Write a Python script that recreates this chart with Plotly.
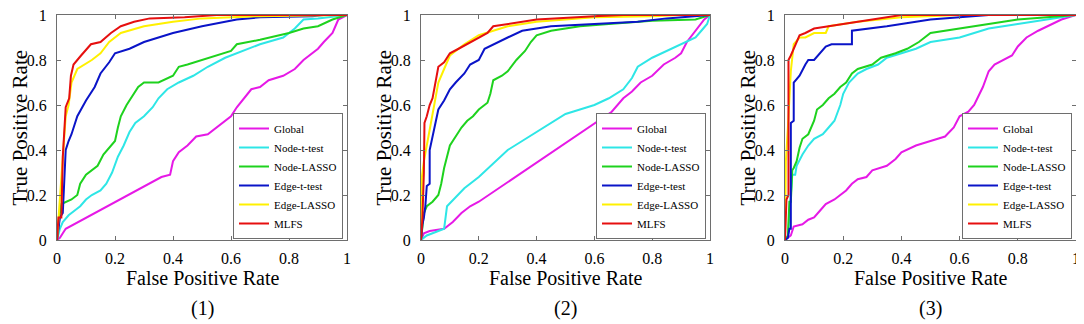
import plotly.graph_objects as go

methods = ["Global", "Node-t-test", "Node-LASSO", "Edge-t-test", "Edge-LASSO", "MLFS"]
colors = ["#e619e6", "#2ee6e6", "#1ed21e", "#0a14c8", "#fff000", "#e60f0f"]
panel_labels = ["(1)", "(2)", "(3)"]
tick_vals = [0, 0.2, 0.4, 0.6, 0.8, 1]

# ---------- Panel 1 ----------
p1_global_x = [0, 0.01, 0.02, 0.03, 0.36, 0.39, 0.40, 0.42, 0.45, 0.48, 0.52, 0.55, 0.58, 0.60, 0.62, 0.65, 0.67, 0.70, 0.73, 0.78, 0.82, 0.85, 0.88, 0.90, 0.92, 0.95, 0.96, 0.97, 1]
p1_global_y = [0, 0.01, 0.03, 0.05, 0.28, 0.29, 0.35, 0.39, 0.42, 0.46, 0.47, 0.50, 0.53, 0.55, 0.59, 0.64, 0.67, 0.68, 0.71, 0.73, 0.76, 0.80, 0.83, 0.85, 0.88, 0.92, 0.95, 0.98, 1]
p1_nodet_x = [0, 0.01, 0.02, 0.04, 0.06, 0.08, 0.10, 0.12, 0.15, 0.17, 0.19, 0.21, 0.23, 0.25, 0.27, 0.30, 0.33, 0.35, 0.38, 0.42, 0.47, 0.52, 0.58, 0.62, 0.70, 0.78, 0.82, 0.85, 0.90, 1]
p1_nodet_y = [0, 0.05, 0.08, 0.11, 0.13, 0.15, 0.18, 0.20, 0.22, 0.25, 0.30, 0.37, 0.42, 0.48, 0.52, 0.55, 0.59, 0.63, 0.67, 0.70, 0.73, 0.77, 0.81, 0.83, 0.87, 0.90, 0.94, 0.98, 0.985, 1]
p1_nodel_x = [0, 0.005, 0.01, 0.015, 0.03, 0.05, 0.07, 0.08, 0.10, 0.12, 0.14, 0.16, 0.18, 0.20, 0.21, 0.22, 0.24, 0.26, 0.28, 0.30, 0.35, 0.40, 0.42, 0.45, 0.50, 0.55, 0.60, 0.62, 0.70, 0.80, 0.85, 0.90, 0.95, 1]
p1_nodel_y = [0, 0.07, 0.12, 0.16, 0.17, 0.18, 0.20, 0.25, 0.29, 0.31, 0.33, 0.38, 0.41, 0.44, 0.50, 0.55, 0.60, 0.64, 0.68, 0.70, 0.70, 0.73, 0.77, 0.78, 0.80, 0.82, 0.84, 0.87, 0.89, 0.92, 0.94, 0.95, 0.98, 1]
p1_edget_x = [0, 0.01, 0.02, 0.025, 0.03, 0.04, 0.05, 0.07, 0.10, 0.13, 0.15, 0.18, 0.20, 0.25, 0.30, 0.40, 0.50, 0.62, 0.70, 0.88, 0.92, 1]
p1_edget_y = [0, 0.10, 0.12, 0.25, 0.40, 0.44, 0.47, 0.55, 0.62, 0.68, 0.74, 0.79, 0.83, 0.85, 0.88, 0.92, 0.95, 0.98, 0.99, 0.995, 1, 1]
p1_edgel_x = [0, 0.005, 0.02, 0.03, 0.04, 0.05, 0.07, 0.12, 0.15, 0.18, 0.22, 0.30, 0.40, 0.50, 0.70, 1]
p1_edgel_y = [0, 0.10, 0.35, 0.55, 0.60, 0.70, 0.76, 0.80, 0.83, 0.88, 0.92, 0.95, 0.97, 0.985, 0.995, 1]
p1_mlfs_x = [0, 0.005, 0.015, 0.02, 0.03, 0.042, 0.048, 0.057, 0.083, 0.117, 0.15, 0.186, 0.22, 0.266, 0.32, 0.44, 0.55, 1]
p1_mlfs_y = [0, 0.10, 0.10, 0.37, 0.59, 0.63, 0.73, 0.78, 0.82, 0.87, 0.88, 0.92, 0.95, 0.97, 0.985, 0.99, 1, 1]

# ---------- Panel 2 ----------
p2_global_x = [0, 0.01, 0.03, 0.08, 0.11, 0.14, 0.17, 0.20, 0.66, 0.68, 0.70, 0.73, 0.76, 0.80, 0.84, 0.88, 0.90, 0.92, 0.95, 0.98, 1]
p2_global_y = [0, 0.03, 0.04, 0.05, 0.08, 0.12, 0.15, 0.17, 0.57, 0.60, 0.63, 0.66, 0.70, 0.73, 0.78, 0.81, 0.83, 0.88, 0.93, 0.98, 1]
p2_nodet_x = [0, 0.02, 0.04, 0.08, 0.09, 0.12, 0.15, 0.20, 0.25, 0.30, 0.35, 0.40, 0.45, 0.50, 0.55, 0.60, 0.65, 0.70, 0.73, 0.75, 0.80, 0.85, 0.90, 0.95, 0.97, 0.99, 1]
p2_nodet_y = [0, 0.02, 0.03, 0.05, 0.15, 0.19, 0.23, 0.28, 0.34, 0.40, 0.44, 0.48, 0.52, 0.56, 0.58, 0.60, 0.63, 0.67, 0.72, 0.77, 0.81, 0.84, 0.87, 0.90, 0.93, 0.96, 1]
p2_nodel_x = [0, 0.005, 0.01, 0.02, 0.04, 0.06, 0.07, 0.08, 0.09, 0.10, 0.12, 0.14, 0.16, 0.18, 0.20, 0.23, 0.24, 0.25, 0.28, 0.30, 0.33, 0.36, 0.38, 0.40, 0.45, 0.55, 0.65, 0.80, 0.95, 1]
p2_nodel_y = [0, 0.07, 0.12, 0.15, 0.17, 0.20, 0.25, 0.32, 0.37, 0.42, 0.46, 0.50, 0.53, 0.55, 0.58, 0.61, 0.65, 0.71, 0.73, 0.75, 0.80, 0.84, 0.88, 0.91, 0.93, 0.95, 0.96, 0.975, 0.98, 1]
p2_edget_x = [0, 0.005, 0.01, 0.015, 0.02, 0.03, 0.03, 0.04, 0.05, 0.06, 0.08, 0.10, 0.12, 0.15, 0.17, 0.20, 0.22, 0.25, 0.30, 0.35, 0.45, 0.60, 0.75, 0.85, 0.90, 1]
p2_edget_y = [0, 0.07, 0.10, 0.15, 0.24, 0.25, 0.40, 0.46, 0.53, 0.58, 0.62, 0.67, 0.70, 0.74, 0.78, 0.80, 0.85, 0.87, 0.90, 0.93, 0.95, 0.96, 0.97, 0.985, 0.99, 1]
p2_edgel_x = [0, 0.003, 0.01, 0.02, 0.03, 0.05, 0.06, 0.08, 0.10, 0.15, 0.20, 0.25, 0.30, 0.40, 0.60, 0.80, 0.90, 1]
p2_edgel_y = [0, 0.28, 0.35, 0.42, 0.50, 0.63, 0.70, 0.76, 0.82, 0.87, 0.91, 0.93, 0.95, 0.97, 0.99, 0.995, 1, 1]
p2_mlfs_x = [0, 0.005, 0.01, 0.012, 0.02, 0.03, 0.04, 0.05, 0.06, 0.08, 0.10, 0.13, 0.16, 0.20, 0.23, 0.25, 0.30, 0.40, 0.60, 0.70, 1]
p2_mlfs_y = [0, 0.10, 0.30, 0.52, 0.55, 0.60, 0.63, 0.70, 0.77, 0.79, 0.83, 0.85, 0.87, 0.90, 0.92, 0.95, 0.96, 0.98, 0.995, 1, 1]

# ---------- Panel 3 ----------
p3_global_x = [0, 0.01, 0.02, 0.03, 0.06, 0.08, 0.10, 0.12, 0.14, 0.17, 0.19, 0.21, 0.23, 0.25, 0.28, 0.30, 0.35, 0.38, 0.40, 0.45, 0.50, 0.55, 0.58, 0.60, 0.63, 0.65, 0.68, 0.70, 0.72, 0.75, 0.78, 0.80, 0.83, 0.87, 0.90, 0.95, 1]
p3_global_y = [0, 0.01, 0.02, 0.06, 0.07, 0.09, 0.10, 0.13, 0.16, 0.18, 0.20, 0.22, 0.25, 0.27, 0.28, 0.31, 0.33, 0.36, 0.39, 0.42, 0.44, 0.46, 0.50, 0.55, 0.57, 0.60, 0.68, 0.75, 0.78, 0.80, 0.82, 0.86, 0.90, 0.93, 0.95, 0.98, 1]
p3_nodet_x = [0, 0.01, 0.02, 0.025, 0.035, 0.04, 0.06, 0.08, 0.10, 0.13, 0.15, 0.17, 0.19, 0.20, 0.22, 0.25, 0.28, 0.32, 0.35, 0.40, 0.45, 0.50, 0.55, 0.60, 0.65, 0.70, 0.80, 0.90, 1]
p3_nodet_y = [0, 0.01, 0.20, 0.29, 0.29, 0.33, 0.38, 0.42, 0.45, 0.47, 0.50, 0.53, 0.60, 0.65, 0.70, 0.74, 0.76, 0.78, 0.81, 0.83, 0.85, 0.88, 0.89, 0.90, 0.92, 0.94, 0.96, 0.98, 1]
p3_nodel_x = [0, 0.01, 0.015, 0.02, 0.025, 0.03, 0.04, 0.05, 0.06, 0.08, 0.10, 0.11, 0.13, 0.15, 0.17, 0.19, 0.21, 0.23, 0.25, 0.30, 0.33, 0.38, 0.42, 0.46, 0.50, 0.55, 0.60, 0.70, 0.80, 0.90, 1]
p3_nodel_y = [0, 0.02, 0.17, 0.17, 0.31, 0.32, 0.35, 0.41, 0.45, 0.47, 0.53, 0.58, 0.60, 0.63, 0.65, 0.68, 0.70, 0.74, 0.76, 0.78, 0.81, 0.83, 0.85, 0.88, 0.92, 0.93, 0.94, 0.96, 0.98, 0.99, 1]
p3_edget_x = [0, 0.01, 0.015, 0.02, 0.02, 0.03, 0.03, 0.05, 0.07, 0.08, 0.10, 0.12, 0.14, 0.16, 0.23, 0.23, 0.30, 0.35, 0.45, 0.50, 0.60, 0.70, 1]
p3_edget_y = [0, 0.01, 0.05, 0.05, 0.52, 0.53, 0.70, 0.73, 0.78, 0.80, 0.80, 0.83, 0.86, 0.87, 0.87, 0.93, 0.94, 0.95, 0.97, 0.98, 0.99, 1, 1]
p3_edgel_x = [0, 0.003, 0.01, 0.015, 0.02, 0.03, 0.05, 0.07, 0.10, 0.14, 0.15, 0.25, 0.40, 0.60, 1]
p3_edgel_y = [0, 0.35, 0.50, 0.62, 0.75, 0.87, 0.90, 0.90, 0.92, 0.92, 0.95, 0.97, 0.99, 1, 1]
p3_mlfs_x = [0, 0.005, 0.012, 0.012, 0.02, 0.03, 0.04, 0.05, 0.07, 0.10, 0.15, 0.20, 0.30, 0.40, 1]
p3_mlfs_y = [0, 0.18, 0.20, 0.80, 0.82, 0.85, 0.88, 0.91, 0.92, 0.94, 0.95, 0.96, 0.98, 1.0, 1]

panels = [
    [(p1_global_x, p1_global_y), (p1_nodet_x, p1_nodet_y), (p1_nodel_x, p1_nodel_y),
     (p1_edget_x, p1_edget_y), (p1_edgel_x, p1_edgel_y), (p1_mlfs_x, p1_mlfs_y)],
    [(p2_global_x, p2_global_y), (p2_nodet_x, p2_nodet_y), (p2_nodel_x, p2_nodel_y),
     (p2_edget_x, p2_edget_y), (p2_edgel_x, p2_edgel_y), (p2_mlfs_x, p2_mlfs_y)],
    [(p3_global_x, p3_global_y), (p3_nodet_x, p3_nodet_y), (p3_nodel_x, p3_nodel_y),
     (p3_edget_x, p3_edget_y), (p3_edgel_x, p3_edgel_y), (p3_mlfs_x, p3_mlfs_y)],
]

# page body has an 8px margin, so the figure is made 8px smaller and positions shifted
OFF = 8
W, H = 1084 - OFF, 324 - OFF
px_left = [57, 421, 785]
px_right = [347, 710, 1076]
px_top, px_bottom = 15, 240
FONT = '"Liberation Serif", "Times New Roman", Times, serif'


def fx(px):
    return (px - OFF) / W


def fy(py):
    return (H - (py - OFF)) / H


fig = go.Figure()
legend_names = ["legend", "legend2", "legend3"]
axis_suffix = ["", "2", "3"]

for i, curves in enumerate(panels):
    for j, (xs, ys) in enumerate(curves):
        fig.add_trace(go.Scatter(
            x=xs, y=ys, mode="lines", name=methods[j],
            line=dict(color=colors[j], width=2),
            xaxis="x" + axis_suffix[i], yaxis="y" + axis_suffix[i],
            legend=legend_names[i], showlegend=True,
        ))

layout = dict(
    width=W, height=H, autosize=False,
    margin=dict(l=0, r=0, t=0, b=0, pad=0, autoexpand=False),
    paper_bgcolor="white", plot_bgcolor="white",
    font=dict(family=FONT, color="black", size=16),
    annotations=[], showlegend=True,
)

for i in range(3):
    dom_x = [fx(px_left[i]), fx(px_right[i])]
    dom_y = [fy(px_bottom), fy(px_top)]
    ax_common = dict(range=[0, 1], tickvals=tick_vals, showline=True, mirror="ticks",
                     linecolor="#6e6e6e", linewidth=1, ticks="inside", ticklen=4,
                     tickcolor="#6e6e6e", showgrid=False, zeroline=False, automargin=False,
                     ticklabeloverflow="allow",
                     tickfont=dict(family=FONT, size=16, color="black"), fixedrange=True)
    layout["xaxis" + axis_suffix[i]] = dict(domain=dom_x, anchor="y" + axis_suffix[i],
                                            ticklabelstandoff=4, **ax_common)
    layout["yaxis" + axis_suffix[i]] = dict(domain=dom_y, anchor="x" + axis_suffix[i],
                                            ticklabelstandoff=6, **ax_common)
    cx = (dom_x[0] + dom_x[1]) / 2
    layout["annotations"].append(dict(text="False Positive Rate", x=cx, y=fy(278),
                                      xref="paper", yref="paper", showarrow=False,
                                      xanchor="center", yanchor="middle",
                                      font=dict(family=FONT, size=20)))
    layout["annotations"].append(dict(text=panel_labels[i], x=cx, y=fy(308),
                                      xref="paper", yref="paper", showarrow=False,
                                      xanchor="center", yanchor="middle",
                                      font=dict(family=FONT, size=20)))
    layout["annotations"].append(dict(text="True Positive Rate", x=fx(px_left[i] - 38),
                                      y=(dom_y[0] + dom_y[1]) / 2, textangle=-90,
                                      xref="paper", yref="paper", showarrow=False,
                                      xanchor="center", yanchor="middle",
                                      font=dict(family=FONT, size=21)))
    layout[legend_names[i]] = dict(x=fx(px_right[i] - 4), y=fy(px_bottom - 1),
                                   xanchor="right", yanchor="bottom",
                                   bgcolor="white", bordercolor="#6e6e6e", borderwidth=1,
                                   font=dict(family=FONT, size=11), itemwidth=30,
                                   tracegroupgap=0, traceorder="normal")

fig.update_layout(**layout)
fig.write_html("out.html")
